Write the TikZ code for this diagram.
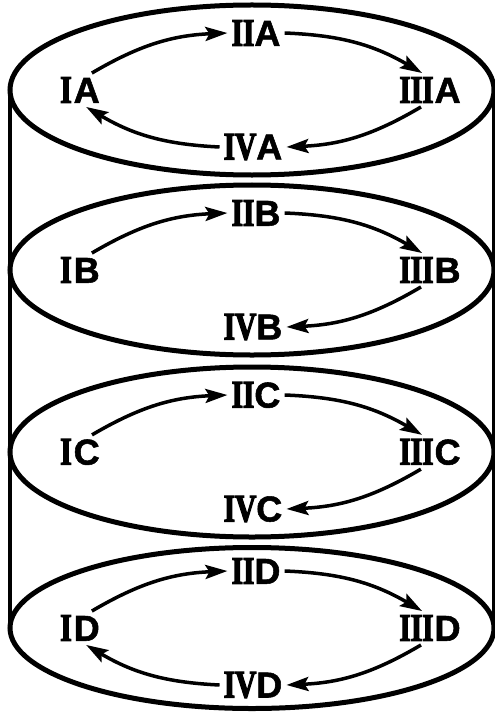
\documentclass[tikz,border=0pt]{standalone}
\usepackage{fontspec}
\usepackage{tikz}
\usetikzlibrary{arrows.meta,shapes.geometric}
\newfontfamily\numfont{Liberation Serif}[UprightFont=*/B,FakeStretch=0.75,FakeBold=3]
\newfontfamily\letfont{Liberation Sans}[UprightFont=*/B,FakeBold=1.5]
\newcommand{\rn}[1]{{\numfont\fontsize{39bp}{39bp}\selectfont #1}}
\newcommand{\lt}[1]{{\letfont\fontsize{36bp}{36bp}\selectfont #1}}
\tikzset{
  ringline/.style = {draw,ellipse,line width=5bp,inner sep=0pt,outer sep=0pt,minimum width=484bp},
  sideline/.style = {line width=3.4bp},
  cycarr/.style   = {-{Stealth[length=22bp,width=14bp,inset=4bp]},line width=3.5bp},
  lbl/.style      = {inner sep=4bp}
}
% one layer: letter, centre depth, ellipse height
\newcommand{\ring}[3]{%
  \node[ringline,minimum height=#3] (ring#1) at (252,-#2) {};
  \node[lbl] (I#1)   at (80,-#2)     {\rn{I}\kern2bp\lt{#1}};
  \node[lbl] (II#1)  at (256,-#2+57) {\rn{II}\lt{#1}};
  \node[lbl] (III#1) at (430,-#2)    {\rn{III}\kern1bp\lt{#1}};
  \node[lbl] (IV#1)  at (253,-#2-57) {\rn{IV}\lt{#1}};
  \draw[cycarr] (I#1.55)   to[bend left=14] (II#1.west);
  \draw[cycarr] (II#1.east) to[bend left=14] (III#1.115);
  \draw[cycarr] (III#1.242) to[bend left=14] (IV#1.east);
}

\begin{document}
\begin{tikzpicture}[x=1bp,y=1bp]
  \useasboundingbox (0,0) rectangle (495,-712);
  \ring{A}{90}{170bp}
  \ring{B}{270}{170bp}
  \ring{C}{452}{170bp}
  \ring{D}{628}{161bp}
  \draw[cycarr] (IVA.west) to[bend left=14] (IA.-70);
  \draw[cycarr] (IVD.west) to[bend left=14] (ID.-70);
  % cylinder walls
  \draw[sideline] (ringA.west) -- (ringA.west |- ringD.west);
  \draw[sideline] (ringA.east) -- (ringA.east |- ringD.east);
\end{tikzpicture}
\end{document}
